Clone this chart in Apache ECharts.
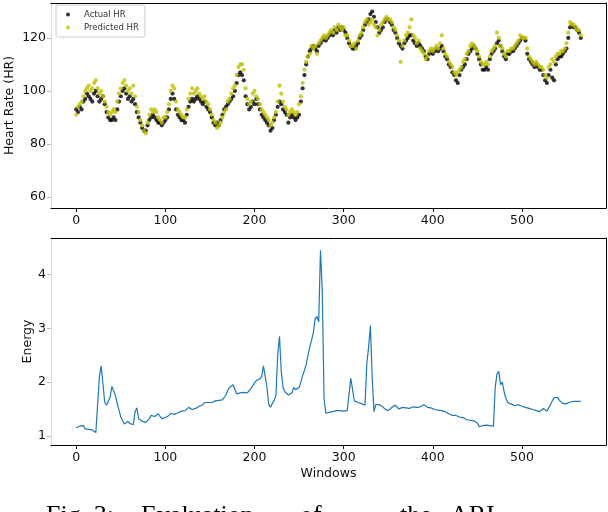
<!DOCTYPE html>
<html>
<head>
<meta charset="utf-8">
<script src="https://cdn.jsdelivr.net/npm/echarts@6/dist/echarts.min.js"></script>
<style>html,body{margin:0;padding:0;background:#fff;}#c{width:608px;height:512px;}</style>
</head>
<body>
<div id="c"></div>
<script>
// Window spacing between sampled values (every 2nd window)
const windowStep = 2;

const actualHR = [
93,92,94,93,96,
97,99,98,97,96,99,100,98,96,97,98,
95,92,90,89,89,90,89,
93,96,98,100,101,99,
97,98,96,97,95,
92,90,88,86,85,85,
87,89,90,91,90,
89,88,88,87,88,89,
90,93,97,99,
97,93,91,90,89,89,88,
91,94,96,97,96,97,
98,97,96,95,96,94,
93,92,90,88,87,
88,87,89,91,
93,94,95,96,97,98,
100,103,106,107,106,104,
98,95,93,94,96,95,
97,95,93,91,90,
89,88,87,85,86,89,91,
94,96,95,93,92,91,
88,90,91,90,89,90,91,
96,101,106,110,113,115,116,117,
116,115,117,118,119,120,119,120,
121,122,121,123,122,124,123,124,123,122,
120,118,117,116,116,117,118,
120,121,123,125,
126,127,129,130,128,126,
124,122,123,124,
126,127,127,126,125,123,
122,120,118,117,116,
118,119,120,121,121,119,
118,117,118,117,116,115,
113,112,114,115,114,
115,116,115,116,117,115,
113,112,110,109,107,
106,104,103,106,
108,109,110,112,
114,115,116,117,116,
114,112,110,108,108,109,108,
112,114,115,116,
118,119,117,
115,113,112,114,
114,115,115,116,117,
118,119,120,120,119,
114,112,111,110,
109,110,109,108,108,
106,104,103,
106,108,105,104,
110,112,113,113,114,
115,116,120,
124,125,124,124,123,122,120
];

const predictedHR = [
91,94,95,96,98,
100,101,102,100,101,103,104,101,99,100,98,
96,94,92,91,92,93,92,
96,99,101,103,104,102,
100,101,99,102,98,
94,92,89,87,85,84,
88,91,93,92,93,
92,90,89,88,90,90,
92,95,100,102,
101,96,93,92,91,90,90,
93,97,99,101,99,100,
101,99,98,97,98,96,
95,93,91,89,88,
86,87,88,90,
92,93,96,97,99,101,
102,106,109,110,110,108,
101,97,95,96,99,100,
98,97,95,93,92,
91,90,89,87,88,90,92,
96,102,99,96,94,93,
91,92,93,92,91,92,95,
98,103,108,111,113,114,117,116,
117,114,118,119,120,121,120,121,
122,123,122,124,123,125,124,123,124,121,
121,119,117,117,118,116,119,
121,122,124,126,
127,125,126,127,125,124,
121,123,125,126,
127,128,127,127,126,124,
123,121,119,111,117,
119,121,122,124,127,121,
120,118,119,116,115,114,
112,113,115,116,115,
116,117,116,118,121,116,
114,113,111,110,109,
107,106,107,108,
109,111,112,114,
115,117,118,117,116,
115,113,111,110,110,111,110,
113,115,116,117,
122,120,117,
116,114,113,115,
115,116,116,117,118,
119,121,120,120,120,
116,113,112,111,
110,111,110,109,109,
108,106,105,
109,110,112,111,
113,114,114,115,115,
116,118,122,
126,125,125,124,123,123,121
];

const energy = [
1.15,1.16,1.18,1.20,1.19,
1.13,1.12,1.12,1.11,1.11,1.10,1.06,
1.03,2.10,2.30,2.33,1.62,1.57,1.60,1.72,1.92,1.90,
1.75,1.60,1.48,1.35,1.28,1.22,1.23,1.27,1.23,1.24,
1.21,1.45,1.52,1.32,1.29,1.27,1.25,1.25,1.27,1.32,
1.38,1.37,1.36,1.38,1.41,1.36,1.32,1.33,1.34,1.36,
1.38,1.42,1.41,1.40,1.41,1.43,1.44,1.46,1.45,1.47,
1.50,1.53,1.51,1.49,1.50,1.51,1.53,1.55,1.56,1.58,
1.62,1.61,1.62,1.63,1.62,1.63,1.65,1.64,1.66,1.65,
1.67,1.70,1.76,1.85,1.90,1.93,1.95,1.92,1.78,1.76,
1.80,1.82,1.81,1.79,1.80,1.84,1.88,1.93,1.98,2.03,
2.05,2.06,2.10,2.30,2.27,1.90,1.58,1.53,1.60,1.66,
1.75,2.50,2.85,2.20,1.90,1.82,1.80,1.76,1.74,1.80,
1.90,1.86,1.86,1.90,2.00,2.12,2.22,2.33,2.50,2.65,
2.78,2.92,3.18,3.22,3.12,4.45,3.70,1.70,1.42,1.40,
1.44,1.46,1.45,1.46,1.47,1.46,1.47,1.47,1.46,1.48,
1.47,1.46,2.07,2.09,1.65,1.63,1.62,1.61,1.60,1.58,
1.57,2.35,2.65,3.05,2.10,1.45,1.58,1.60,1.58,1.56,
1.54,1.50,1.48,1.47,1.50,1.53,1.56,1.57,1.55,1.50,
1.51,1.53,1.51,1.52,1.53,1.51,1.52,1.54,1.51,1.53,
1.55,1.54,1.57,1.58,1.56,1.53,1.51,1.52,1.50,1.49,
1.50,1.48,1.47,1.47,1.46,1.45,1.43,1.41,1.40,1.38,
1.37,1.38,1.36,1.35,1.33,1.34,1.32,1.30,1.31,1.29,
1.30,1.28,1.27,1.24,1.17,1.18,1.19,1.19,1.20,1.21,
1.19,1.17,1.18,1.90,2.15,2.20,1.95,2.00,1.82,1.70,
1.62,1.60,1.59,1.58,1.56,1.57,1.58,1.56,1.55,1.55,
1.53,1.52,1.51,1.50,1.49,1.48,1.47,1.45,1.45,1.47,
1.51,1.49,1.46,1.52,1.58,1.65,1.71,1.74,1.71,1.66,
1.63,1.60,1.59,1.60,1.61,1.63,1.63,1.64,1.63,1.64,
1.64,1.64
];

const xTicks = [0, 100, 200, 300, 400, 500];
const hrTicks = [60, 80, 100, 120];
const energyTicks = [1, 2, 3, 4];
const captionWords = ['Fig. 3:', 'Evaluation', 'of', 'the', 'ARI'];

const toPairs = arr => arr.map((v, i) => [i * windowStep, v]);

const font = 'DejaVu Sans';
const labelStyle = {color: '#111', fontSize: 12.5, fontFamily: font};
const tickStyle = {show: true, length: 4, inside: false, lineStyle: {color: '#111', width: 1}};

function mainX(grid, values, showName) {
  return {
    type: 'value', gridIndex: grid, min: -28.3, max: 594.3, position: 'bottom',
    splitLine: {show: false},
    axisLine: {show: true, onZero: false, lineStyle: {color: '#000', width: 1}},
    axisTick: Object.assign({customValues: values}, tickStyle),
    axisLabel: Object.assign({customValues: values, margin: 6}, labelStyle),
    name: showName ? 'Windows' : '', nameLocation: 'middle', nameGap: 22,
    nameMoveOverlap: false,
    nameTextStyle: {color: '#111', fontSize: 12.5, fontFamily: font}
  };
}
function topX(grid) {
  return {
    type: 'value', gridIndex: grid, min: -28.3, max: 594.3, position: 'top',
    splitLine: {show: false}, axisTick: {show: false}, axisLabel: {show: false},
    axisLine: {show: true, onZero: false, lineStyle: {color: '#000', width: 1}}
  };
}
function mainY(grid, min, max, values, name, gap) {
  return {
    type: 'value', gridIndex: grid, min: min, max: max, position: 'left',
    splitLine: {show: false},
    axisLine: {show: true, onZero: false, lineStyle: {color: '#ddd', width: 1}},
    axisTick: Object.assign({customValues: values}, tickStyle, {lineStyle: {color: '#bbb'}}),
    axisLabel: Object.assign({customValues: values, margin: 5}, labelStyle),
    name: name, nameLocation: 'middle', nameGap: gap, nameMoveOverlap: false,
    nameTextStyle: {color: '#111', fontSize: 12.5, fontFamily: font}
  };
}
function rightY(grid, min, max) {
  return {
    type: 'value', gridIndex: grid, min: min, max: max, position: 'right',
    splitLine: {show: false}, axisTick: {show: false}, axisLabel: {show: false},
    axisLine: {show: true, onZero: false, lineStyle: {color: '#000', width: 1}}
  };
}

const captionLeft = [46, 141, 300, 400, 450];

const chart = echarts.init(document.getElementById('c'), null, {renderer: 'canvas'});
chart.setOption({
  animation: false,
  backgroundColor: '#fff',
  grid: [
    {left: 51, right: 2, top: 3, height: 205, containLabel: false, outerBoundsMode: 'none'},
    {left: 51, right: 2, top: 238, height: 207, containLabel: false, outerBoundsMode: 'none'}
  ],
  xAxis: [mainX(0, xTicks, false), topX(0), mainX(1, xTicks, true), topX(1)],
  yAxis: [
    mainY(0, 55.8, 133.2, hrTicks, 'Heart Rate (HR)', 35),
    rightY(0, 55.8, 133.2),
    mainY(1, 0.83, 4.68, energyTicks, 'Energy', 17),
    rightY(1, 0.83, 4.68)
  ],
  legend: {
    show: true, orient: 'vertical', left: 56, top: 5,
    data: [{name: 'Actual HR', icon: 'circle'}, {name: 'Predicted HR', icon: 'circle'}],
    itemWidth: 4, itemHeight: 4, itemGap: 4,
    padding: [5, 6, 5, 10],
    borderColor: '#ccc', borderWidth: 1, borderRadius: 2,
    backgroundColor: '#fff',
    textStyle: {fontSize: 8.5, color: '#333', fontFamily: font, padding: [0, 0, 0, 9]}
  },
  series: [
    {name: 'Actual HR', type: 'scatter', xAxisIndex: 0, yAxisIndex: 0,
     data: toPairs(actualHR), symbolSize: 4.2, itemStyle: {color: '#000'}},
    {name: 'Predicted HR', type: 'scatter', xAxisIndex: 0, yAxisIndex: 0,
     data: toPairs(predictedHR), symbolSize: 4.2, itemStyle: {color: '#bfbf00'}},
    {name: 'Energy', type: 'line', xAxisIndex: 2, yAxisIndex: 2,
     data: toPairs(energy), showSymbol: false, symbol: 'none',
     lineStyle: {color: '#1f77b4', width: 1.2}}
  ],
  graphic: captionWords.map((w, i) => ({
    type: 'text', left: captionLeft[i], top: 503,
    style: {text: w, fontFamily: 'Liberation Serif', fontSize: 26, fill: '#000'}
  }))
});
</script>
</body>
</html>
